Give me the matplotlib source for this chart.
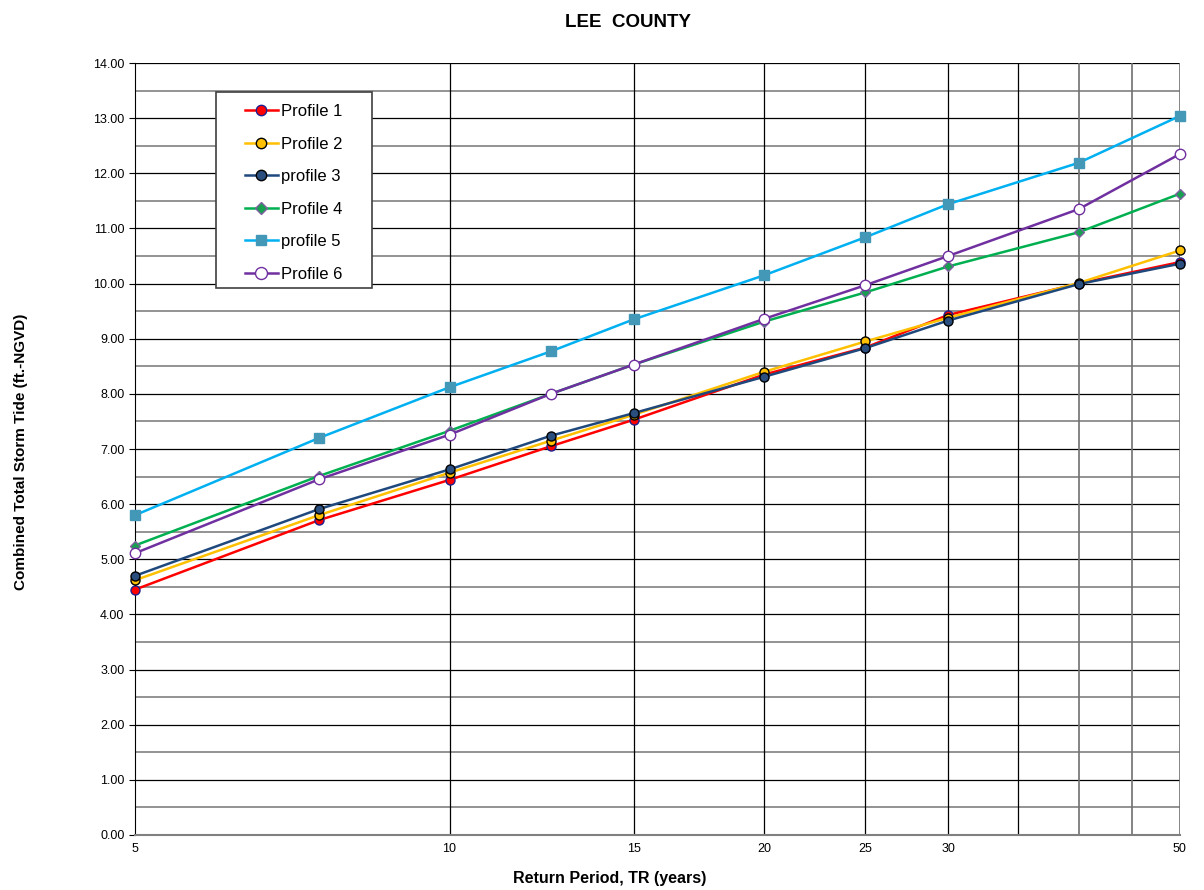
import matplotlib

matplotlib.use("Agg")
import matplotlib.pyplot as plt
from matplotlib.patches import Rectangle
from matplotlib.ticker import FixedLocator, NullFormatter, NullLocator

plt.rcParams["font.family"] = ["Liberation Sans", "DejaVu Sans"]

return_period = [5, 7.5, 10, 12.5, 15, 20, 25, 30, 40, 50]
profile_1 = [4.45, 5.71, 6.44, 7.05, 7.53, 8.35, 8.84, 9.43, 10.00, 10.39]
profile_2 = [4.62, 5.80, 6.57, 7.15, 7.62, 8.40, 8.95, 9.38, 10.01, 10.60]
profile_3 = [4.70, 5.91, 6.63, 7.24, 7.65, 8.31, 8.83, 9.33, 9.99, 10.36]
profile_4 = [5.25, 6.51, 7.33, 8.00, 8.53, 9.31, 9.84, 10.31, 10.93, 11.63]
profile_5 = [5.80, 7.20, 8.12, 8.77, 9.35, 10.15, 10.84, 11.44, 12.19, 13.04]
profile_6 = [5.11, 6.45, 7.26, 8.00, 8.53, 9.36, 9.97, 10.50, 11.35, 12.35]

x_ticks = [5, 10, 15, 20, 25, 30, 50]
x_grid_dark = [10, 15, 20, 25, 30, 35]
x_grid_light = [40, 45, 50]

fig = plt.figure(figsize=(12.04, 8.9), dpi=100)
ax = fig.add_axes([0.1121, 0.0618, 0.8679, 0.8674])

# horizontal grid: black on whole numbers, grey on halves
for v in range(1, 15):
    ax.axhline(v, color="black", lw=0.9, zorder=0)
for k in range(0, 14):
    ax.axhline(k + 0.5, color="#808080", lw=1.2, zorder=0)
for v in x_grid_dark:
    ax.axvline(v, color="black", lw=0.9, zorder=0)
for v in x_grid_light:
    ax.axvline(v, color="#707070", lw=1.2, zorder=0)

series = [
    ("Profile 1", profile_1, dict(color="#FF0000", marker="o", mfc="#FF0000", mec="#1F1F8F")),
    ("Profile 2", profile_2, dict(color="#FFC000", marker="o", mfc="#FFC000", mec="black")),
    ("profile 3", profile_3, dict(color="#1F497D", marker="o", mfc="#2A4F7F", mec="black")),
    ("Profile 4", profile_4, dict(color="#00B050", marker="D", mfc="#16A050", mec="#7F60A0", ms=5.5)),
    ("profile 5", profile_5, dict(color="#00B0F0", marker="s", mfc="#4398B8", mec="#4398B8")),
    ("Profile 6", profile_6, dict(color="#7030A0", marker="o", mfc="white", mec="#7030A0", ms=7.5)),
]
for name, vals, style in series:
    kw = dict(lw=1.8, ms=6.5, mew=1.0)
    kw.update(style)
    ax.plot(return_period, vals, label=name, zorder=3, clip_on=False, **kw)

ax.set_xscale("log")
ax.set_xlim(5, 50)
ax.set_ylim(0, 14)
ax.xaxis.set_major_locator(FixedLocator(x_ticks))
ax.xaxis.set_major_formatter(plt.FixedFormatter([str(t) for t in x_ticks]))
ax.xaxis.set_minor_locator(NullLocator())
ax.xaxis.set_minor_formatter(NullFormatter())
ax.set_yticks([i for i in range(15)])
ax.set_yticklabels([f"{i:.2f}" for i in range(15)])
ax.tick_params(axis="both", labelsize=9, length=4, color="black")
ax.tick_params(axis="x", length=0, pad=6)

for s in ["top", "right"]:
    ax.spines[s].set_visible(False)
ax.spines["left"].set_color("black")
ax.spines["bottom"].set_color("#808080")
ax.spines["bottom"].set_linewidth(1.5)

ax.set_xlabel("Return Period, TR (years)", fontsize=11.5, fontweight="bold")
ax.xaxis.set_label_coords(0.4545, -0.046)
ax.set_ylabel("Combined Total Storm Tide (ft.-NGVD)", fontsize=11, fontweight="bold")
ax.yaxis.set_label_coords(-0.102, 0.497)
fig.text(0.522, 0.975, "LEE  COUNTY", ha="center", va="center", fontsize=13.5, fontweight="bold")

# legend box drawn separately so it can have wide side padding
box = Rectangle((0.1794, 0.6764), 0.1296, 0.2202, transform=fig.transFigure,
                facecolor="white", edgecolor="#404040", lw=1.2, zorder=4, clip_on=False)
ax.add_artist(box)
leg = ax.legend(loc="upper left", bbox_to_anchor=(0.2035, 0.8831), bbox_transform=fig.transFigure,
                fontsize=12, frameon=False, borderpad=0, labelspacing=1.05,
                handlelength=1.95, handletextpad=0.2, borderaxespad=0, markerscale=1.15)
leg.set_zorder(5)

fig.savefig("out.png", dpi=100)
